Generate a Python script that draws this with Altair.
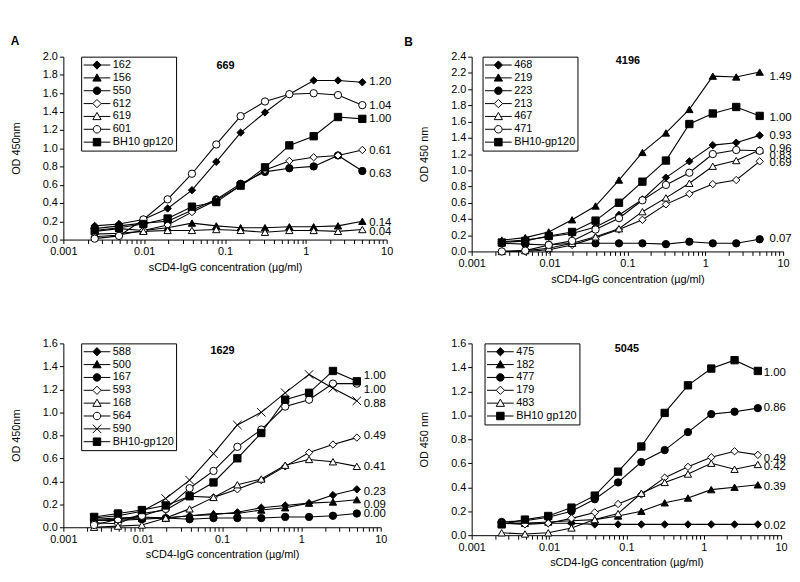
import altair as alt
import pandas as pd

CONC = [0.00244, 0.00488, 0.00977, 0.0195, 0.039, 0.078, 0.156, 0.3125, 0.625, 1.25, 2.5, 5.0]
X_TICKS = [0.001, 0.002, 0.003, 0.004, 0.005, 0.006, 0.007, 0.008, 0.009,
           0.01, 0.02, 0.03, 0.04, 0.05, 0.06, 0.07, 0.08, 0.09,
           0.1, 0.2, 0.3, 0.4, 0.5, 0.6, 0.7, 0.8, 0.9,
           1, 2, 3, 4, 5, 6, 7, 8, 9, 10]
X_TITLE = "sCD4-IgG concentration (µg/ml)"

# ---------------- Panel A : 669 ----------------
A_SERIES = ["162", "156", "550", "612", "619", "601", "BH10 gp120"]
A_KIND = ["fd", "ft", "fc", "od", "ot", "oc", "fs"]
A_162 = [0.15, 0.17, 0.22, 0.34, 0.54, 0.85, 1.17, 1.39, 1.59, 1.74, 1.74, 1.72]
A_156 = [0.09, 0.12, 0.10, 0.13, 0.18, 0.15, 0.13, 0.13, 0.14, 0.14, 0.15, 0.20]
A_550 = [0.12, 0.15, 0.18, 0.20, 0.32, 0.44, 0.61, 0.74, 0.78, 0.80, 0.92, 0.75]
A_612 = [0.03, 0.05, 0.10, 0.16, 0.30, 0.43, 0.59, 0.76, 0.86, 0.90, 0.92, 0.98]
A_619 = [0.06, 0.07, 0.09, 0.10, 0.10, 0.11, 0.10, 0.08, 0.10, 0.10, 0.09, 0.11]
A_601 = [0.01, 0.04, 0.22, 0.44, 0.72, 1.04, 1.35, 1.51, 1.59, 1.60, 1.58, 1.47]
A_BH10 = [0.10, 0.13, 0.17, 0.23, 0.36, 0.41, 0.59, 0.79, 1.03, 1.13, 1.34, 1.32]
A_END_LABELS = ["1.20", "1.04", "1.00", "0.61", "0.63", "0.14", "0.04"]
A_END_Y = [1.72, 1.46, 1.32, 0.97, 0.72, 0.18, 0.08]
A_YTICKS = [0.0, 0.2, 0.4, 0.6, 0.8, 1.0, 1.2, 1.4, 1.6, 1.8, 2.0]

# ---------------- Panel B : 4196 ----------------
B_SERIES = ["468", "219", "223", "213", "467", "471", "BH10-gp120"]
B_KIND = ["fd", "ft", "fc", "od", "ot", "oc", "fs"]
B_468 = [0.12, 0.14, 0.18, 0.22, 0.30, 0.45, 0.64, 0.91, 1.11, 1.31, 1.34, 1.43]
B_219 = [0.14, 0.17, 0.24, 0.39, 0.56, 0.88, 1.22, 1.46, 1.75, 2.16, 2.15, 2.21]
B_223 = [0.10, 0.09, 0.08, 0.10, 0.10, 0.10, 0.10, 0.09, 0.12, 0.10, 0.10, 0.15]
B_213 = [0.00, 0.00, 0.02, 0.08, 0.17, 0.27, 0.39, 0.58, 0.71, 0.83, 0.88, 1.11]
B_467 = [0.00, 0.01, 0.04, 0.10, 0.18, 0.28, 0.49, 0.66, 0.84, 1.05, 1.12, 1.25]
B_471 = [0.00, 0.01, 0.08, 0.13, 0.27, 0.41, 0.63, 0.82, 0.97, 1.20, 1.25, 1.24]
B_BH10 = [0.11, 0.13, 0.19, 0.24, 0.38, 0.60, 0.86, 1.12, 1.57, 1.70, 1.78, 1.67]
B_END_LABELS = ["1.49", "1.00", "0.93", "0.96", "0.83", "0.69", "0.07"]
B_END_Y = [2.15, 1.64, 1.42, 1.265, 1.18, 1.09, 0.155]
B_YTICKS = [0.0, 0.2, 0.4, 0.6, 0.8, 1.0, 1.2, 1.4, 1.6, 1.8, 2.0, 2.2, 2.4]

# ---------------- Panel C : 1629 ----------------
C_SERIES = ["588", "500", "167", "593", "168", "564", "590", "BH10-gp120"]
C_KIND = ["fd", "ft", "fc", "od", "ot", "oc", "x", "fs"]
C_588 = [0.07, 0.08, 0.09, 0.08, 0.10, 0.11, 0.13, 0.17, 0.19, 0.21, 0.28, 0.33]
C_500 = [0.06, 0.07, 0.08, 0.08, 0.10, 0.12, 0.12, 0.15, 0.17, 0.21, 0.22, 0.24]
C_167 = [0.06, 0.06, 0.07, 0.08, 0.07, 0.08, 0.08, 0.08, 0.09, 0.09, 0.10, 0.12]
C_593 = [0.04, 0.03, 0.12, 0.15, 0.27, 0.26, 0.33, 0.41, 0.53, 0.65, 0.72, 0.78]
C_168 = [0.00, 0.01, 0.02, 0.08, 0.16, 0.26, 0.37, 0.42, 0.54, 0.59, 0.57, 0.53]
C_564 = [0.02, 0.07, 0.10, 0.16, 0.34, 0.49, 0.70, 0.85, 1.05, 1.11, 1.25, 1.25]
C_590 = [0.08, 0.10, 0.14, 0.25, 0.41, 0.64, 0.89, 1.00, 1.17, 1.33, 1.21, 1.10]
C_BH10 = [0.09, 0.12, 0.15, 0.19, 0.27, 0.39, 0.60, 0.82, 1.11, 1.17, 1.36, 1.27]
C_END_LABELS = ["1.00", "1.00", "0.88", "0.49", "0.41", "0.23", "0.09", "0.00"]
C_END_Y = [1.32, 1.19, 1.07, 0.79, 0.52, 0.305, 0.196, 0.116]
C_YTICKS = [0.0, 0.2, 0.4, 0.6, 0.8, 1.0, 1.2, 1.4, 1.6]

# ---------------- Panel D : 5045 ----------------
D_SERIES = ["475", "182", "477", "179", "483", "BH10 gp120"]
D_KIND = ["fd", "ft", "fc", "od", "ot", "fs"]
D_475 = [0.10, 0.10, 0.10, 0.10, 0.09, 0.09, 0.09, 0.09, 0.09, 0.09, 0.09, 0.09]
D_182 = [0.10, 0.10, 0.11, 0.12, 0.13, 0.16, 0.20, 0.27, 0.31, 0.38, 0.40, 0.42]
D_477 = [0.11, 0.12, 0.15, 0.20, 0.30, 0.44, 0.61, 0.71, 0.86, 1.01, 1.03, 1.06]
D_179 = [0.10, 0.09, 0.10, 0.14, 0.19, 0.26, 0.34, 0.48, 0.57, 0.65, 0.70, 0.67]
D_483 = [0.02, 0.01, 0.02, 0.06, 0.13, 0.18, 0.35, 0.44, 0.51, 0.60, 0.55, 0.59]
D_BH10 = [0.09, 0.13, 0.16, 0.23, 0.33, 0.53, 0.74, 1.02, 1.25, 1.39, 1.46, 1.37]
D_END_LABELS = ["1.00", "0.86", "0.49", "0.42", "0.39", "0.02"]
D_END_Y = [1.35, 1.06, 0.635, 0.567, 0.40, 0.08]
D_YTICKS = [0.0, 0.2, 0.4, 0.6, 0.8, 1.0, 1.2, 1.4, 1.6]

# ---------------- marker styles ----------------
X_PATH = "M-1.15,-1.15L1.15,1.15M-1.15,1.15L1.15,-1.15"
PLOT_SHAPE = {"fd": "diamond", "ft": "triangle-up", "fc": "circle", "od": "diamond",
              "ot": "triangle-up", "oc": "circle", "fs": "square", "x": X_PATH}
FILL = {"fd": "black", "ft": "black", "fc": "black", "od": "white", "ot": "white",
        "oc": "white", "fs": "black", "x": "black"}
LEG_SHAPE = {
    "fd": "M-1,0H-0.31M0.31,0H1M-0.31,0L0,-0.31L0.31,0L0,0.31Z",
    "od": "M-1,0H-0.31M0.31,0H1M-0.31,0L0,-0.31L0.31,0L0,0.31Z",
    "ft": "M-1,0H-0.17M0.17,0H1M0,-0.3L0.31,0.24L-0.31,0.24Z",
    "ot": "M-1,0H-0.17M0.17,0H1M0,-0.3L0.31,0.24L-0.31,0.24Z",
    "fc": "M-1,0H-0.28M0.28,0H1M0.28,0A0.28,0.28,0,1,1,-0.28,0A0.28,0.28,0,1,1,0.28,0Z",
    "oc": "M-1,0H-0.28M0.28,0H1M0.28,0A0.28,0.28,0,1,1,-0.28,0A0.28,0.28,0,1,1,0.28,0Z",
    "fs": "M-1,0H-0.28M0.28,0H1M-0.28,-0.28H0.28V0.28H-0.28Z",
    "x": "M-1,0H1M-0.32,-0.32L0.32,0.32M-0.32,0.32L0.32,-0.32",
}

LBL = "abs(log(datum.value)/LN10 - round(log(datum.value)/LN10)) < 0.001 ? format(datum.value, '~g') : ''"
FONT = "Liberation Sans"
IND = dict(shape="independent", fill="independent", stroke="independent")


def panel(series, kinds, values, end_labels, end_y, ymax, yticks, ytitle, name,
          w, h, legend_x, name_y, label_dx, letter="", letter_dx=0, letter_off=3):
    rows = []
    for s, vals in zip(series, values):
        for c, v in zip(CONC, vals):
            rows.append({"series": s, "conc": c, "od": v})
    df = pd.DataFrame(rows)
    lab = pd.DataFrame({"conc": [CONC[-1]] * len(end_labels), "od": end_y, "txt": end_labels})

    x = alt.X("conc:Q", scale=alt.Scale(type="log", domain=[0.001, 10], nice=False),
              axis=alt.Axis(values=X_TICKS, labelExpr=LBL, title=X_TITLE, labelFlush=False))
    y = alt.Y("od:Q", scale=alt.Scale(domain=[0, ymax], nice=False),
              axis=alt.Axis(values=yticks, format=".1f", title=ytitle))

    base = alt.Chart(df)
    lines = base.mark_line(color="black", strokeWidth=1.1).encode(x=x, y=y, detail="series:N")
    pts = base.mark_point(filled=True, size=55, opacity=1, stroke="black", strokeWidth=1).encode(
        x=x, y=y,
        shape=alt.Shape("series:N", scale=alt.Scale(domain=series, range=[PLOT_SHAPE[k] for k in kinds]), legend=None),
        fill=alt.Fill("series:N", scale=alt.Scale(domain=series, range=[FILL[k] for k in kinds]), legend=None),
    )
    texts = alt.Chart(lab).mark_text(align="left", baseline="middle", dx=label_dx, font=FONT,
                                     fontSize=11.5, color="black").encode(x=x, y=y, text="txt:N")
    inner = alt.layer(lines, pts, texts)

    leg = alt.Legend(title=None, orient="none", legendX=legend_x, legendY=0,
                     strokeColor="black", fillColor="white", padding=2, clipHeight=12.9,
                     rowPadding=0, symbolSize=729, symbolStrokeWidth=1,
                     labelFont=FONT, labelFontSize=11, labelColor="black", labelOffset=2)
    name_axis = alt.X("conc:Q", scale=alt.Scale(domain=[0, 1]),
                      axis=alt.Axis(orient="top", title=name, domain=False, ticks=False, labels=False,
                                    titleFontWeight="bold", titleFontSize=11, titleY=name_y,
                                    titleBaseline="middle"))
    legend_layer = base.transform_filter("false").mark_point(
        filled=True, opacity=1, strokeWidth=1).encode(
        x=name_axis,
        shape=alt.Shape("series:N", scale=alt.Scale(domain=series, range=[LEG_SHAPE[k] for k in kinds]), legend=leg),
        fill=alt.Fill("series:N", scale=alt.Scale(domain=series, range=[FILL[k] for k in kinds]), legend=leg),
        stroke=alt.Stroke("series:N", scale=alt.Scale(domain=series, range=["black"] * len(series)), legend=leg),
    )
    props = dict(width=w, height=h)
    if letter:
        props["title"] = alt.TitleParams(text=letter, anchor="start", frame="bounds", dx=letter_dx,
                                         offset=letter_off, fontSize=12, fontWeight="bold",
                                         font=FONT, color="black")
    return alt.layer(inner, legend_layer).resolve_scale(x="independent", **IND).properties(**props)


pA = panel(A_SERIES, A_KIND, [A_162, A_156, A_550, A_612, A_619, A_601, A_BH10],
           A_END_LABELS, A_END_Y, 2.0, A_YTICKS, "OD 450nm", "669", 327, 185, 18, 9, 7,
           letter="A", letter_dx=0, letter_off=3)
pB = panel(B_SERIES, B_KIND, [B_468, B_219, B_223, B_213, B_467, B_471, B_BH10],
           B_END_LABELS, B_END_Y, 2.4, B_YTICKS, "OD 450 nm", "4196", 315, 197, 11, 4, 10,
           letter="B", letter_dx=-15, letter_off=2)
pC = panel(C_SERIES, C_KIND, [C_588, C_500, C_167, C_593, C_168, C_564, C_590, C_BH10],
           C_END_LABELS, C_END_Y, 1.6, C_YTICKS, "OD 450nm", "1629", 321, 186, 18, 7, 7)
pD = panel(D_SERIES, D_KIND, [D_475, D_182, D_477, D_179, D_483, D_BH10],
           D_END_LABELS, D_END_Y, 1.6, D_YTICKS, "OD 450 nm", "5045", 313, 194, 13, 5, 6)

chart = alt.concat(pA, pB, pC, pD, columns=2, spacing={"row": 93, "column": 86},
                   bounds="flush").resolve_scale(**IND).properties(
    padding={"left": 2, "top": 24, "right": 0, "bottom": 0}
).configure_axis(
    domainColor="black", tickColor="black", labelColor="black", titleColor="black",
    labelFont=FONT, titleFont=FONT, labelFontSize=11, titleFontSize=11,
    titleFontWeight="normal", tickSize=4, grid=False, domainWidth=1, tickWidth=1
).configure_axisX(titlePadding=5, labelPadding=2).configure_axisY(
    titlePadding=21, labelPadding=2
).configure_view(strokeWidth=0).configure_title(font=FONT, color="black")

chart.save("out.html", embed_options={"renderer": "svg", "actions": False})
